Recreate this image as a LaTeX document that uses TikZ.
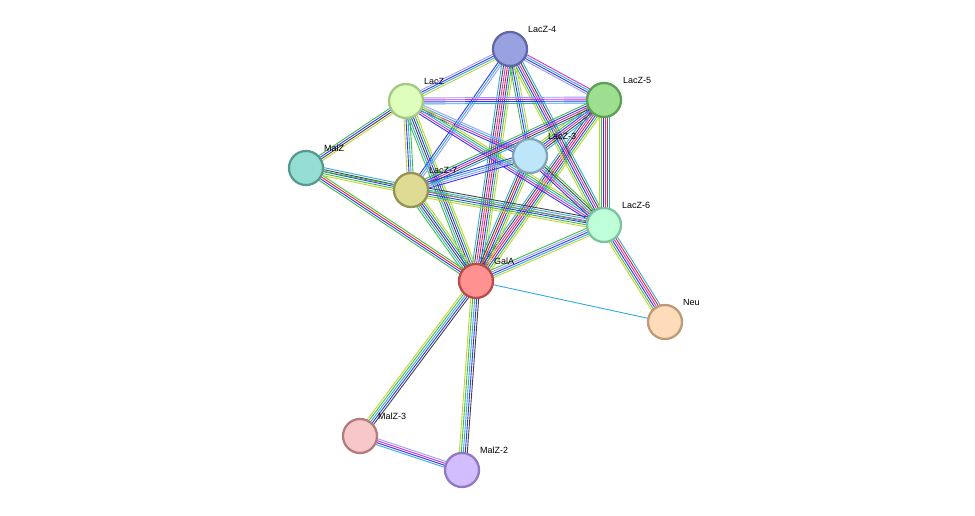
\documentclass[tikz,border=0pt]{standalone}
\usepackage{fontspec}
\setmainfont{Liberation Sans}
\usetikzlibrary{calc}
\pgfdeclarelayer{bg}\pgfsetlayers{bg,main}
\definecolor{cG}{HTML}{3DBF3D}\definecolor{cB}{HTML}{3333FF}\definecolor{cR}{HTML}{EE2222}
\definecolor{cP}{HTML}{CC33CC}\definecolor{cK}{HTML}{444444}\definecolor{cC}{HTML}{33AADD}
\definecolor{cL}{HTML}{9999FF}\definecolor{cY}{HTML}{C3D332}
\newcommand{\sedge}[4]{% a b n colors
  \foreach \cc [count=\i] in {#4}{
    \pgfmathsetmacro{\off}{(\i-(#3+1)/2)*2}
    \draw[\cc,line width=0.9pt] ($(#1)!\off pt!90:(#2)$) -- ($(#2)!\off pt!-90:(#1)$);
  }}
\tikzset{prot/.style={circle,minimum size=34pt,line width=2.3pt,inner sep=0pt},
  lab/.style={font=\fontsize{9}{10}\selectfont,anchor=south west,inner sep=1pt}}
\begin{document}
\begin{tikzpicture}[x=1pt,y=-1pt]
\useasboundingbox (0,0) rectangle (975,516);
\node[prot,fill={rgb,255:red,153;green,161;blue,225},draw={rgb,255:red,95;green,105;blue,170}] (L4) at (510,49) {};
\node[prot,fill={rgb,255:red,221;green,255;blue,187},draw={rgb,255:red,165;green,200;blue,130}] (L) at (406,101) {};
\node[prot,fill={rgb,255:red,158;green,222;blue,145},draw={rgb,255:red,90;green,160;blue,85}] (L5) at (604,100) {};
\node[prot,fill={rgb,255:red,190;green,230;blue,250},draw={rgb,255:red,130;green,165;blue,185}] (L3) at (530,156) {};
\node[prot,fill={rgb,255:red,150;green,222;blue,212},draw={rgb,255:red,85;green,155;blue,145}] (M) at (306,168) {};
\node[prot,fill={rgb,255:red,221;green,219;blue,148},draw={rgb,255:red,150;green,148;blue,85}] (L7) at (411,190) {};
\node[prot,fill={rgb,255:red,190;green,255;blue,218},draw={rgb,255:red,125;green,195;blue,160}] (L6) at (604,225) {};
\node[prot,fill={rgb,255:red,255;green,145;blue,145},draw={rgb,255:red,185;green,75;blue,75}] (G) at (476,281) {};
\node[prot,fill={rgb,255:red,255;green,220;blue,185},draw={rgb,255:red,190;green,155;blue,120}] (N) at (665,322) {};
\node[prot,fill={rgb,255:red,248;green,200;blue,200},draw={rgb,255:red,180;green,125;blue,125}] (M3) at (360,436) {};
\node[prot,fill={rgb,255:red,210;green,190;blue,255},draw={rgb,255:red,145;green,120;blue,195}] (M2) at (462,470) {};
\begin{pgfonlayer}{bg}
\sedge{G}{L4}{7}{cY,cG,cB,cR,cP,cK,cC}
\sedge{G}{L5}{7}{cY,cG,cB,cR,cP,cK,cC}
\sedge{G}{L3}{6}{cY,cG,cB,cR,cK,cC}
\sedge{G}{L}{6}{cY,cG,cB,cK,cC,cG}
\sedge{G}{L7}{6}{cY,cG,cB,cK,cC,cG}
\sedge{G}{M}{4}{cG,cR,cB,cG}
\sedge{G}{L6}{5}{cY,cC,cB,cL,cG}
\sedge{G}{N}{1}{cC}
\sedge{G}{M3}{5}{cY,cG,cC,cB,cK}
\sedge{G}{M2}{5}{cY,cG,cC,cB,cK}
\sedge{M3}{M2}{4}{cC,cB,cP,cL}
\sedge{L4}{L}{4}{cL,cB,cC,cY}
\sedge{L4}{L5}{4}{cL,cB,cC,cP}
\sedge{L4}{L3}{4}{cG,cB,cC,cY}
\sedge{L4}{L6}{6}{cY,cG,cB,cP,cK,cC}
\sedge{L4}{L7}{3}{cB,cC,cL}
\sedge{L}{L5}{4}{cC,cB,cP,cL}
\sedge{L}{L3}{4}{cB,cP,cC,cL}
\sedge{L}{L6}{5}{cB,cP,cC,cG,cY}
\sedge{L}{M}{4}{cG,cB,cK,cY}
\sedge{L}{L7}{4}{cY,cB,cC,cG}
\sedge{L5}{L3}{6}{cY,cG,cB,cP,cK,cC}
\sedge{L5}{L6}{6}{cY,cG,cB,cP,cR,cC}
\sedge{L5}{L7}{5}{cG,cB,cP,cK,cC}
\sedge{L3}{L7}{4}{cB,cC,cL,cB}
\sedge{L3}{L6}{5}{cB,cP,cC,cK,cG}
\sedge{L7}{L6}{6}{cY,cG,cB,cP,cC,cK}
\sedge{M}{L7}{5}{cY,cG,cB,cK,cC}
\sedge{M}{L6}{1}{cG}
\sedge{L6}{N}{6}{cY,cG,cB,cP,cR,cC}
\end{pgfonlayer}
\node[lab] at (527,34) {LacZ-4};
\node[lab] at (423,86) {LacZ};
\node[lab] at (622,85) {LacZ-5};
\node[lab] at (547,141) {LacZ-3};
\node[lab] at (323,153) {MalZ};
\node[lab] at (428,175) {LacZ-7};
\node[lab] at (621,210) {LacZ-6};
\node[lab] at (493,266) {GalA};
\node[lab] at (682,307) {Neu};
\node[lab] at (377,421) {MalZ-3};
\node[lab] at (479,455) {MalZ-2};
\end{tikzpicture}
\end{document}
